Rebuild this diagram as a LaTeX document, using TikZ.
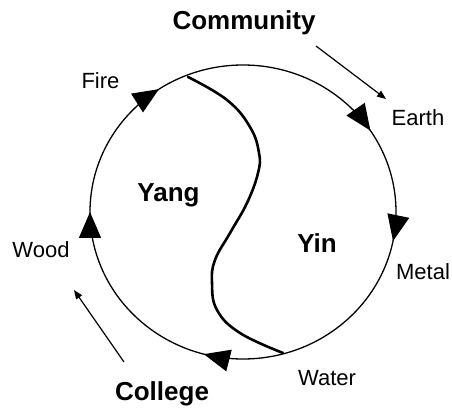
\documentclass[tikz,border=0pt]{standalone}
\usepackage{fontspec}
\setmainfont{Liberation Sans}
\usetikzlibrary{arrows.meta,decorations.markings}
\begin{document}
\begin{tikzpicture}[x=1pt,y=1pt,
  lab/.style={font=\fontsize{22}{22}\selectfont, inner sep=0pt, anchor=base},
  blab/.style={font=\fontsize{26}{26}\selectfont\bfseries, inner sep=0pt, anchor=base},
  ring/.style={line width=1.3pt},
  divide/.style={line width=2.6pt, line join=round, line cap=round},
  pointer/.style={line width=1.2pt, -{Triangle[length=9pt,width=7pt]}}
]
\useasboundingbox (0,0) rectangle (452,407);
\coordinate (c) at (243,195);

% outer circle with flow arrowheads (clockwise)
\draw[ring, decoration={markings,
    mark=at position 0.031 with {\arrow{Triangle[length=26pt,width=22pt]}},
    mark=at position 0.292 with {\arrow{Triangle[length=26pt,width=22pt]}},
    mark=at position 0.500 with {\arrow{Triangle[length=26pt,width=22pt]}},
    mark=at position 0.656 with {\arrow{Triangle[length=26pt,width=22pt]}},
    mark=at position 0.908 with {\arrow{Triangle[length=26pt,width=22pt]}}},
  postaction={decorate}]
  (c) ++(153,0) arc[start angle=360, end angle=0, x radius=153, y radius=147];

% yin-yang divide
\draw[divide] plot[smooth, tension=0.7] coordinates {
  (188,330) (227,307) (250,280) (259,254) (258,234) (247,204)
  (230,174) (215,147) (212,124) (217,97) (240,74) (283,54)};

% labels
\node[blab] (community) at (244,377) {Community};
\node[blab] (college) at (162,7) {College};
\node[blab] (yang) at (168.5,205) {Yang};
\node[blab] (yin) at (317,154) {Yin};
\node[lab] (fire) at (100.5,318) {Fire};
\node[lab] (earth) at (418,281) {Earth};
\node[lab] (metal) at (423,127) {Metal};
\node[lab] (water) at (327,22) {Water};
\node[lab] (wood) at (41,149) {Wood};

% straight pointers
\coordinate (comA) at (316,361);
\coordinate (comB) at (386,308);
\coordinate (colA) at (124,45);
\coordinate (colB) at (74,117);
\draw[pointer] (comA) -- (comB);
\draw[pointer] (colA) -- (colB);
\end{tikzpicture}
\end{document}
